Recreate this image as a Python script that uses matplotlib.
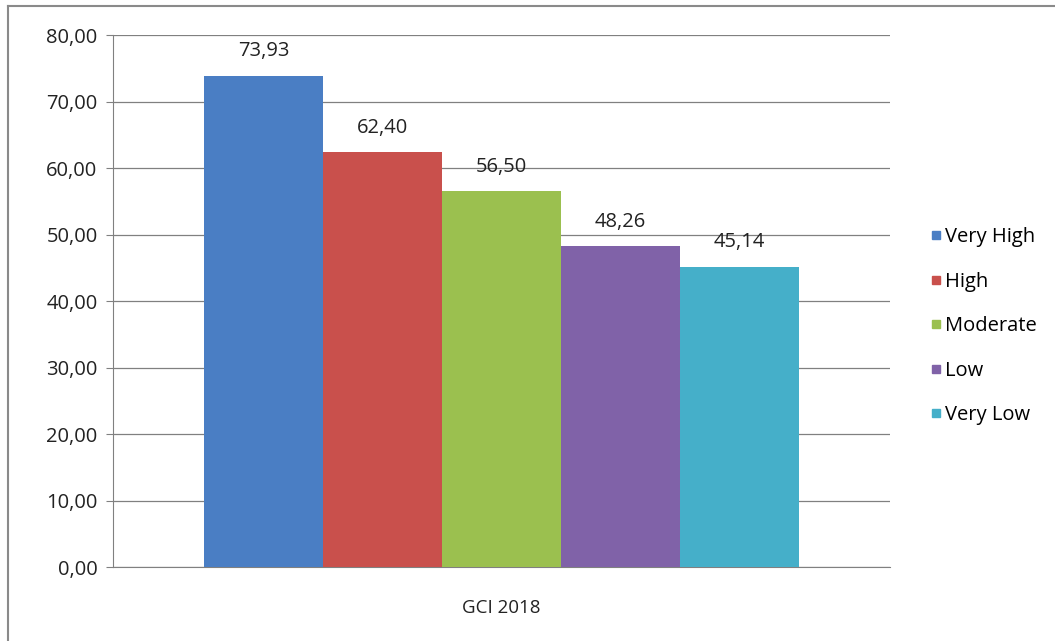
import matplotlib
matplotlib.use("Agg")
import matplotlib.pyplot as plt
from matplotlib.lines import Line2D

# data
category = "GCI 2018"
levels = ["Very High", "High", "Moderate", "Low", "Very Low"]
scores = [73.93, 62.40, 56.50, 48.26, 45.14]
colors = ["#4a7ec4", "#c9504c", "#9bc04f", "#8062a8", "#45afc9"]
y_ticks = [0, 10, 20, 30, 40, 50, 60, 70, 80]

plt.rcParams["font.family"] = ["Open Sans", "DejaVu Sans"]

fig = plt.figure(figsize=(10.55, 6.41), dpi=100)
ax = fig.add_axes([0.107, 0.1154, 0.7366, 0.8296])

# grouped bars for the single category
bar_w = 0.153
n = len(scores)
for i, (lab, val, col) in enumerate(zip(levels, scores, colors)):
    x = (i - (n - 1) / 2) * bar_w
    ax.bar(x, val, width=bar_w, color=col, label=lab, zorder=3)
    ax.text(x, val + 2.2, f"{val:.2f}".replace(".", ","), ha="center", va="bottom",
            fontsize=14.5, color="#222222")

ax.set_xlim(-0.5, 0.5)
ax.set_ylim(0, 80)
ax.set_yticks(y_ticks)
ax.set_yticklabels([f"{v:.2f}".replace(".", ",") for v in y_ticks], fontsize=14.5, color="#222222")
ax.set_xticks([0])
ax.set_xticklabels([category], fontsize=13.5, color="#222222")
ax.tick_params(axis="x", length=0, pad=23)
ax.tick_params(axis="y", length=5, color="#808080", pad=6)

ax.grid(axis="y", color="#808080", linewidth=0.9, zorder=0)
for side in ["top", "right"]:
    ax.spines[side].set_visible(False)
ax.spines["left"].set_color("#808080")
ax.spines["bottom"].set_color("#808080")

handles = [Line2D([0], [0], marker="s", linestyle="", markersize=6,
                  markerfacecolor=c, markeredgecolor=c) for c in colors]
fig.legend(handles, levels, loc="center left", bbox_to_anchor=(0.863, 0.491),
           frameon=False, fontsize=14.5, handletextpad=0.1, labelspacing=1.22,
           handlelength=0.7)

# outer chart frame (top and left edges visible)
fig.add_artist(Line2D([0.0076, 1.0], [0.991, 0.991], color="#8a8a8a", linewidth=1.5))
fig.add_artist(Line2D([0.0076, 0.0076], [0.0, 0.991], color="#8a8a8a", linewidth=1.5))

fig.savefig("out.png", dpi=100)
